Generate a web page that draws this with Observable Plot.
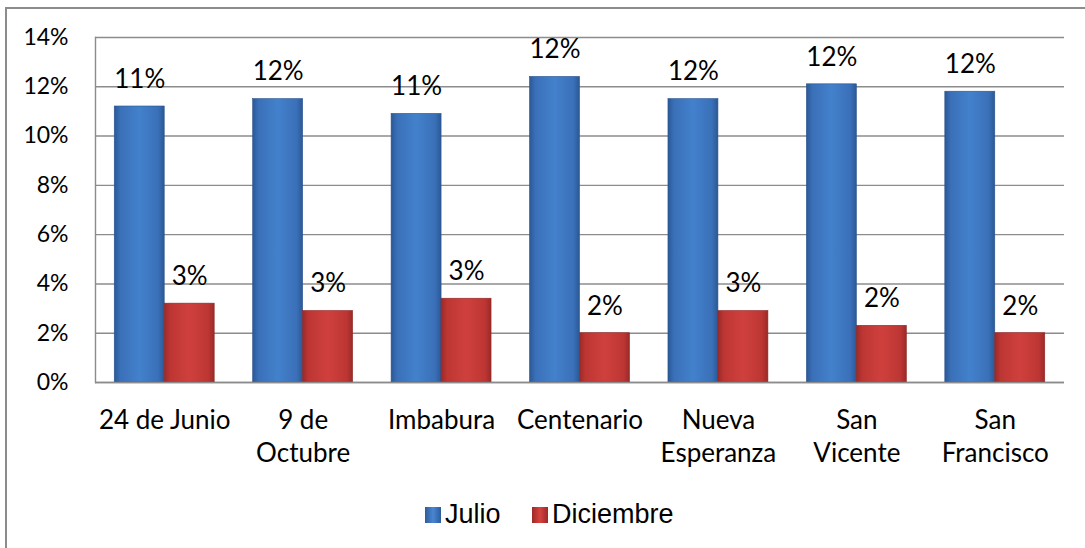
<!DOCTYPE html>
<html>
<head>
<meta charset="utf-8">
<script src="https://cdn.jsdelivr.net/npm/d3@7"></script>
<script src="https://cdn.jsdelivr.net/npm/@observablehq/plot@0.6"></script>
<style>
  html, body { margin: 0; padding: 0; background: #fff; width: 1085px; height: 548px; overflow: hidden; }
  #frame { position: absolute; left: 5px; top: 7px; width: 1200px; height: 600px; border-left: 2px solid #8c8c8c; border-top: 2px solid #8c8c8c; }
  #chart { position: absolute; left: 0; top: 0; }
  .leg { position: absolute; top: 494px; font-family: "Liberation Sans", Arial, sans-serif; font-size: 27px; color: #000; line-height: 40px; white-space: nowrap; }
  .sw { position: absolute; width: 16px; height: 16px; top: 507px; }
</style>
</head>
<body>
<div id="frame"></div>
<div id="chart"></div>
<div class="sw" style="left:425px;background:linear-gradient(90deg,#2d5c9c,#4a86d2 50%,#2d5c9c);"></div>
<div class="leg" style="left:445px;">Julio</div>
<div class="sw" style="left:532px;background:linear-gradient(90deg,#9c2a28,#d6423f 50%,#9c2a28);"></div>
<div class="leg" style="left:552px;">Diciembre</div>
<script>
const categories = ["24 de Junio", "9 de\nOctubre", "Imbabura", "Centenario", "Nueva\nEsperanza", "San\nVicente", "San\nFrancisco"];
const julio = [11.2, 11.5, 10.9, 12.4, 11.5, 12.1, 11.8];
const diciembre = [3.2, 2.9, 3.4, 2.0, 2.9, 2.3, 2.0];
const yTicks = [0, 2, 4, 6, 8, 10, 12, 14];

const half = 0.361;
const bars = [];
categories.forEach((c, i) => {
  bars.push({i, serie: "Julio", v: julio[i], x1: i - half, x2: i, xm: i - half / 2});
  bars.push({i, serie: "Diciembre", v: diciembre[i], x1: i, x2: i + half, xm: i + half / 2});
});

const chart = Plot.plot({
  width: 1085,
  height: 480,
  marginLeft: 95,
  marginRight: 21,
  marginTop: 37,
  marginBottom: 98,
  style: {fontFamily: "Lato, sans-serif", background: "transparent", overflow: "visible"},
  x: {type: "linear", domain: [-0.5, categories.length - 0.5]},
  y: {domain: [0, 14]},
  marks: [
    Plot.gridY(yTicks, {stroke: "#8c8c8c", strokeOpacity: 1, strokeWidth: 1.4}),
    Plot.frame({anchor: "left", stroke: "#8c8c8c", strokeWidth: 1.4}),
    Plot.rectY(bars, {
      x1: "x1", x2: "x2", y: "v",
      fill: d => d.serie === "Julio" ? "url(#gBlue)" : "url(#gRed)",
      stroke: d => d.serie === "Julio" ? "#2a548f" : "#8e2624",
      strokeWidth: 0.6
    }),
    Plot.text(bars, {
      x: "xm", y: "v", dy: -27,
      text: d => Math.round(d.v) + "%",
      fontSize: 26, fill: "#000", textAnchor: "middle", lineAnchor: "middle"
    }),
    Plot.axisY(yTicks, {
      tickSize: 0, tickPadding: 27, fontSize: 23, fill: "#000",
      tickFormat: d => d + "%", label: null
    }),
    Plot.axisX(d3.range(categories.length), {
      tickSize: 0, tickPadding: 22, fontSize: 26, fill: "#000", lineHeight: 1.3,
      tickFormat: i => categories[i], label: null
    }),
    Plot.ruleY([0], {stroke: "#8c8c8c", strokeWidth: 1.4})
  ]
});

d3.select(chart).insert("defs", ":first-child").html(`
  <linearGradient id="gBlue" x1="0" x2="1" y1="0" y2="0">
    <stop offset="0" stop-color="#2b5896"/>
    <stop offset="0.12" stop-color="#3a70b8"/>
    <stop offset="0.5" stop-color="#4381cc"/>
    <stop offset="0.88" stop-color="#3a70b8"/>
    <stop offset="1" stop-color="#2b5896"/>
  </linearGradient>
  <linearGradient id="gRed" x1="0" x2="1" y1="0" y2="0">
    <stop offset="0" stop-color="#9a2a28"/>
    <stop offset="0.12" stop-color="#bd3633"/>
    <stop offset="0.5" stop-color="#cf403d"/>
    <stop offset="0.88" stop-color="#bd3633"/>
    <stop offset="1" stop-color="#9a2a28"/>
  </linearGradient>`);

document.getElementById("chart").appendChild(chart);
</script>
</body>
</html>
